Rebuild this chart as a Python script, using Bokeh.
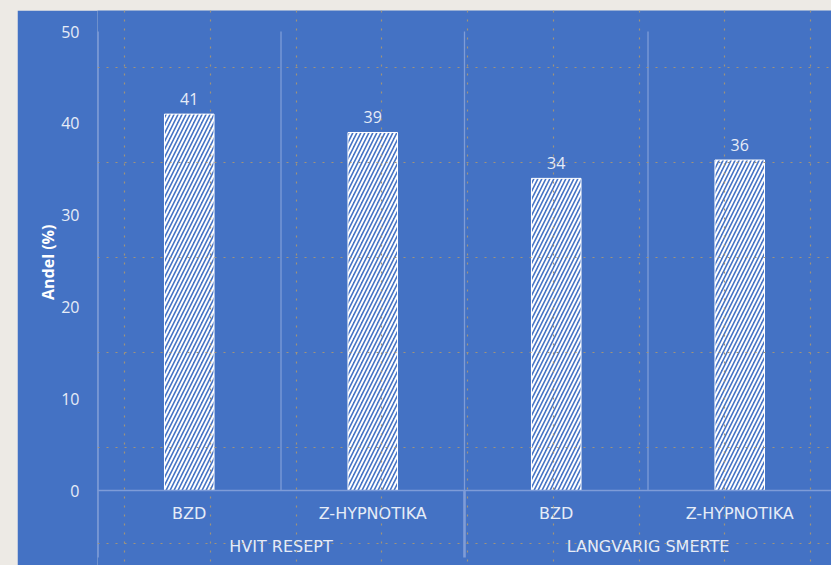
from bokeh.plotting import figure
from bokeh.models import (FactorRange, Range1d, ColumnDataSource, LabelSet,
                          CategoricalAxis, FixedTicker, Title, Span)
from bokeh.layouts import column
from bokeh.core.properties import value
from bokeh.embed import file_html
from bokeh.resources import INLINE

# ---------------- data ----------------
groups = ["HVIT RESEPT", "LANGVARIG SMERTE"]
drugs = ["BZD", "Z-HYPNOTIKA"]
values = [41, 39, 34, 36]
y_ticks = [0, 10, 20, 30, 40, 50]
y_title = "Andel (%)"

factors = [(g, d) for g in groups for d in drugs]

# ---------------- style ----------------
BG = "#EDEAE5"
BLUE = "#4472C4"
LINE = "#7E9CD8"
TXT = "#E6ECF7"
DOT = "#A0937A"
NUM_FONT = "Open Sans"
CAT_FONT = "DejaVu Sans"

# geometry (pixels)
FIG_X, FIG_Y = 17, 10
W, H = 831 - FIG_X, 565 - FIG_Y
FRAME_L = 97 - FIG_X
Y0_PX, YTOP_PX = 490 - FIG_Y, 31 - FIG_Y
ppu = (Y0_PX - YTOP_PX) / (y_ticks[-1] - y_ticks[0])
y_start = -(H - Y0_PX) / ppu
y_end = y_ticks[-1] + YTOP_PX / ppu
y_low_line = -(557 - 490) / ppu

x_range = FactorRange(*factors, range_padding=0, group_padding=0,
                      subgroup_padding=0, factor_padding=0)

fig = figure(x_range=x_range, y_range=Range1d(y_start, y_end),
             width=W, height=H, output_backend="svg", toolbar_location=None,
             min_border_left=FRAME_L, min_border_right=0, min_border_top=0,
             min_border_bottom=0, x_axis_location=None)
fig.margin = (FIG_Y, 0, 0, FIG_X)
fig.background_fill_color = BLUE
fig.border_fill_color = BLUE
fig.outline_line_color = None
fig.grid.visible = False

# category boundary lines (vertical gridlines) and group separators
n = len(factors)
bounds_inner = list(range(1, n))
fig.segment(x0=bounds_inner, y0=[y_ticks[0]] * len(bounds_inner),
            x1=bounds_inner, y1=[y_ticks[-1]] * len(bounds_inner),
            line_color=LINE, line_width=1.3)
group_bounds = [len(drugs) * i for i in range(0, len(groups))]
fig.segment(x0=group_bounds, y0=[y_ticks[-1] if b == 0 else y_ticks[0] for b in group_bounds],
            x1=group_bounds, y1=[y_low_line] * len(group_bounds),
            line_color=LINE, line_width=2.6)

src = ColumnDataSource(dict(x=factors, v=values, lbl=[str(v) for v in values]))
fig.vbar(x="x", top="v", width=0.27, source=src,
         fill_color=BLUE, hatch_pattern="/", hatch_color="white",
         hatch_scale=8, hatch_weight=2.0, line_color="white", line_width=1)

labels = LabelSet(x="x", y="v", text="lbl", source=src, text_align="center",
                  text_baseline="bottom", y_offset=9,
                  text_font=value(NUM_FONT), text_font_size="16px",
                  text_color=TXT)
fig.add_layout(labels)

# y axis
ya = fig.yaxis[0]
ya.ticker = FixedTicker(ticks=y_ticks)
ya.axis_line_color = None
ya.major_tick_line_color = None
ya.minor_tick_line_color = None
ya.major_label_standoff = 12
ya.major_label_text_font = NUM_FONT
ya.major_label_text_font_size = "16px"
ya.major_label_text_color = TXT

fig.add_layout(Title(text=y_title, align="left",
                     offset=H - (Y0_PX + YTOP_PX) / 2 - 39,
                     text_font=NUM_FONT, text_font_size="16px",
                     text_font_style="bold", text_color="white", standoff=0),
               "left")

# x axis (nested categories) drawn at y = 0: drug level
xa = CategoricalAxis(fixed_location=0, axis_line_color=LINE, axis_line_width=1.3,
                     major_tick_line_color=None, minor_tick_line_color=None,
                     major_label_standoff=7,
                     major_label_text_font=CAT_FONT,
                     major_label_text_font_size="16px",
                     major_label_text_color=TXT,
                     group_text_color=None,
                     separator_line_color=None)
fig.add_layout(xa, "below")
# group level
xg = CategoricalAxis(fixed_location=0, axis_line_color=None,
                     major_tick_line_color=None, minor_tick_line_color=None,
                     major_label_standoff=40,
                     major_label_text_font=CAT_FONT,
                     major_label_text_font_size="16px",
                     major_label_text_color=None,
                     group_text_font=CAT_FONT, group_text_font_size="16px",
                     group_text_font_style="normal", group_text_color=TXT,
                     separator_line_color=None)
fig.add_layout(xg, "below")

# worksheet cell gridlines (decorative dotted lines)
for px in [124, 210, 296, 381, 467, 553, 639, 724, 810]:
    fig.add_layout(Span(location=(px - 97) / (831 - 97) * n, dimension="height",
                        line_color=DOT, line_width=1.2, line_dash="2 7"))
for py in [67, 162, 257, 352, 447, 543]:
    fig.add_layout(Span(location=(490 - py) / ppu, dimension="width",
                        line_color=DOT, line_width=1.2, line_dash="2 7"))

p = column(fig, width=831, height=565, styles={"background-color": BG})

open("out.html", "w").write(file_html(p, INLINE))
